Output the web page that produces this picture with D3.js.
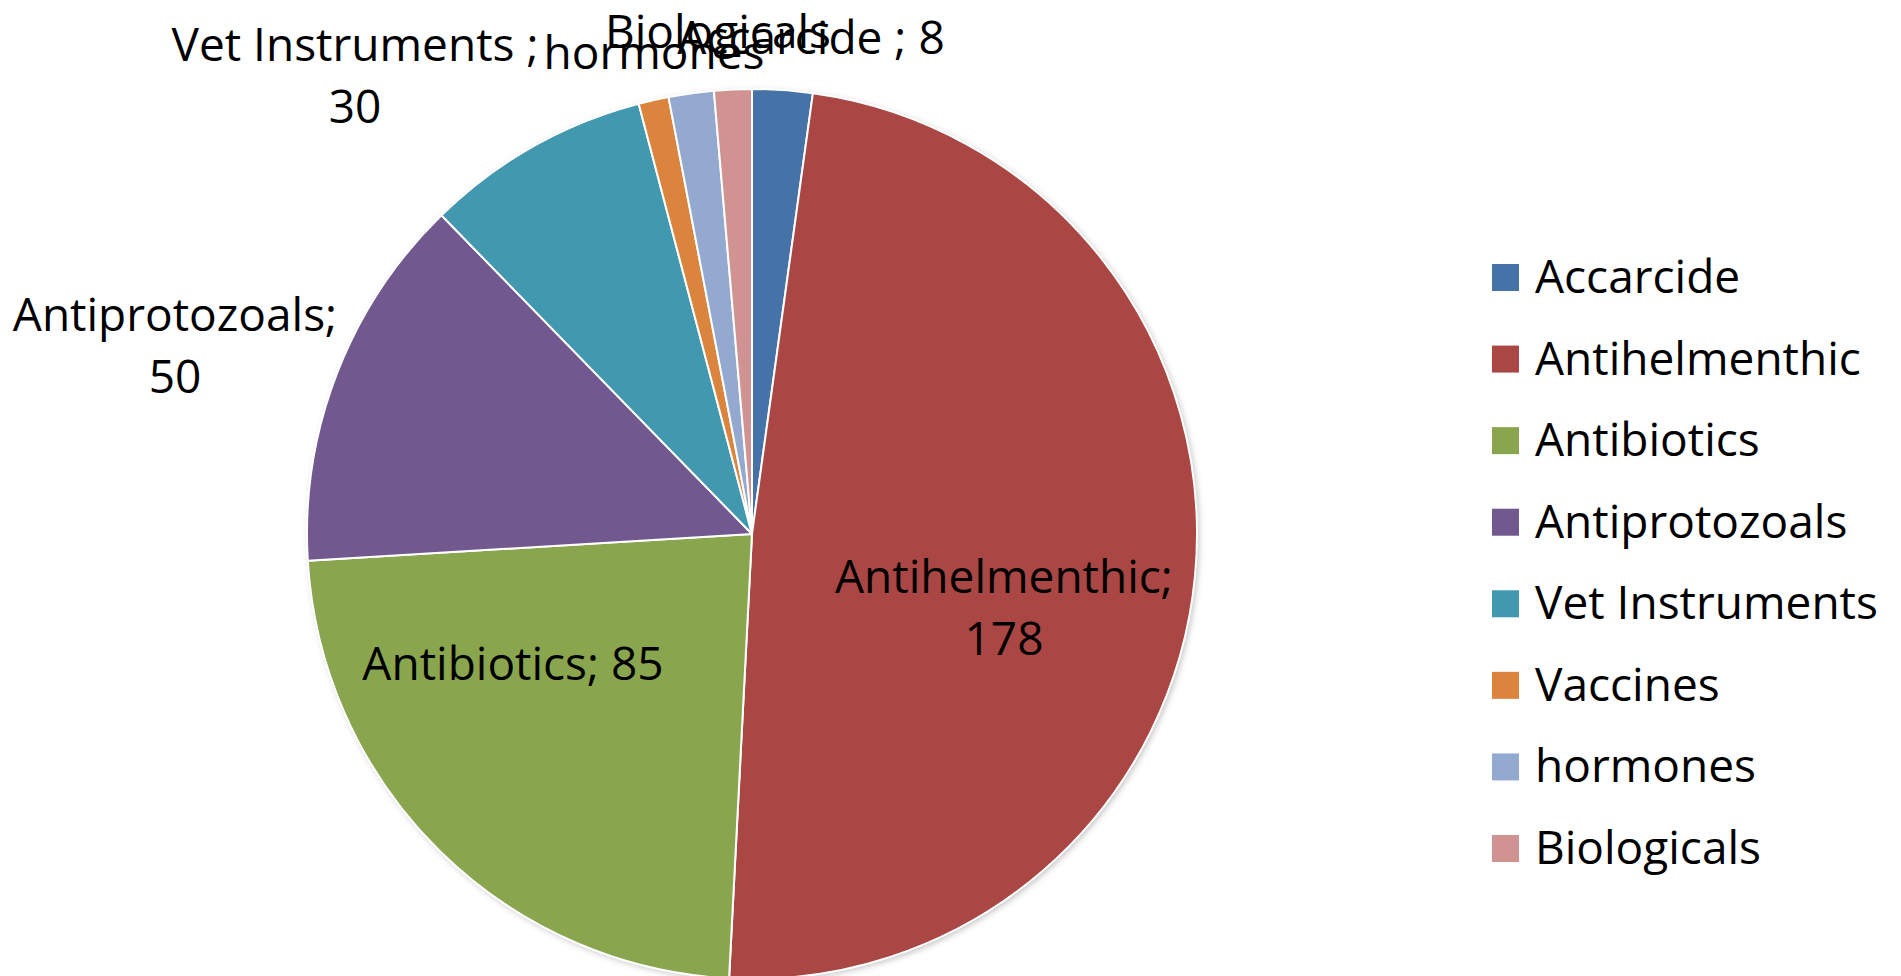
<!DOCTYPE html>
<html>
<head>
<meta charset="utf-8">
<script src="https://cdn.jsdelivr.net/npm/d3@7"></script>
<style>
  html, body { margin: 0; padding: 0; background: #fff; }
  svg { display: block; }
  text { font-family: "Open Sans", "DejaVu Sans", sans-serif; fill: #000; }
</style>
</head>
<body>
<svg id="chart" width="1901" height="976"></svg>
<script>
// ---- data ----
const categories = ["Accarcide", "Antihelmenthic", "Antibiotics", "Antiprotozoals",
                    "Vet Instruments", "Vaccines", "hormones", "Biologicals"];
const values = [8, 178, 85, 50, 30, 4, 6, 5];
// data label texts (as printed on the chart)
const labelLines = [
  ["Accarcide ; 8"],
  ["Antihelmenthic;", "178"],
  ["Antibiotics; 85"],
  ["Antiprotozoals;", "50"],
  ["Vet Instruments ;", "30"],
  [],
  ["hormones"],
  ["Biologicals"]
];
const colors = ["#4572A7", "#AA4643", "#89A54E", "#71588F",
                "#4198AF", "#DB843D", "#93A9CF", "#D19392"];

// ---- layout (not data) ----
const W = 1901, H = 976;
const cx = 752, cy = 534, R = 445;
const fontSize = 46;
const lineH = 62;
// label anchor: centre x and first-line baseline y
const labelAnchor = {
  "Accarcide": [811, 54],
  "Antihelmenthic": [1004, 593],
  "Antibiotics": [513, 680],
  "Antiprotozoals": [175, 331],
  "Vet Instruments": [355, 61],
  "hormones": [654, 69],
  "Biologicals": [718, 48]
};

const svg = d3.select("#chart");
const defs = svg.append("defs");
const f = defs.append("filter").attr("id", "shadow")
  .attr("x", "-10%").attr("y", "-10%").attr("width", "120%").attr("height", "120%");
f.append("feDropShadow").attr("dx", 2).attr("dy", 2).attr("stdDeviation", 3)
  .attr("flood-color", "#000").attr("flood-opacity", 0.25);

const data = categories.map((c, i) => ({ name: c, value: values[i], color: colors[i], lines: labelLines[i] }));

const pie = d3.pie().value(d => d.value).sort(null).startAngle(0).endAngle(2 * Math.PI);
const arc = d3.arc().innerRadius(0).outerRadius(R);
const arcs = pie(data);

const g = svg.append("g").attr("transform", `translate(${cx},${cy})`);
g.append("circle").attr("r", R).attr("fill", "#fff").attr("filter", "url(#shadow)");
g.selectAll("path.slice").data(arcs).join("path")
  .attr("class", "slice")
  .attr("d", arc)
  .attr("fill", d => d.data.color)
  .attr("stroke", "#fff")
  .attr("stroke-width", 2)
  .attr("stroke-linejoin", "round");

// data labels
const lg = svg.append("g");
data.forEach(d => {
  const a = labelAnchor[d.name];
  if (!a || !d.lines.length) return;
  const t = lg.append("text")
    .attr("x", a[0]).attr("y", a[1])
    .attr("text-anchor", "middle")
    .style("font-size", fontSize + "px");
  d.lines.forEach((ln, j) => {
    t.append("tspan").attr("x", a[0]).attr("y", a[1] + j * lineH).text(ln);
  });
});

// legend
const legY = d3.scalePoint().domain(categories).range([278, 849]);
const leg = svg.append("g");
const items = leg.selectAll("g").data(data).join("g")
  .attr("transform", d => `translate(1492,${legY(d.name)})`);
items.append("rect").attr("x", 0).attr("y", -14).attr("width", 27).attr("height", 27)
  .attr("fill", d => d.color);
items.append("text").attr("x", 43).attr("y", 15)
  .style("font-size", fontSize + "px")
  .text(d => d.name);
</script>
</body>
</html>
